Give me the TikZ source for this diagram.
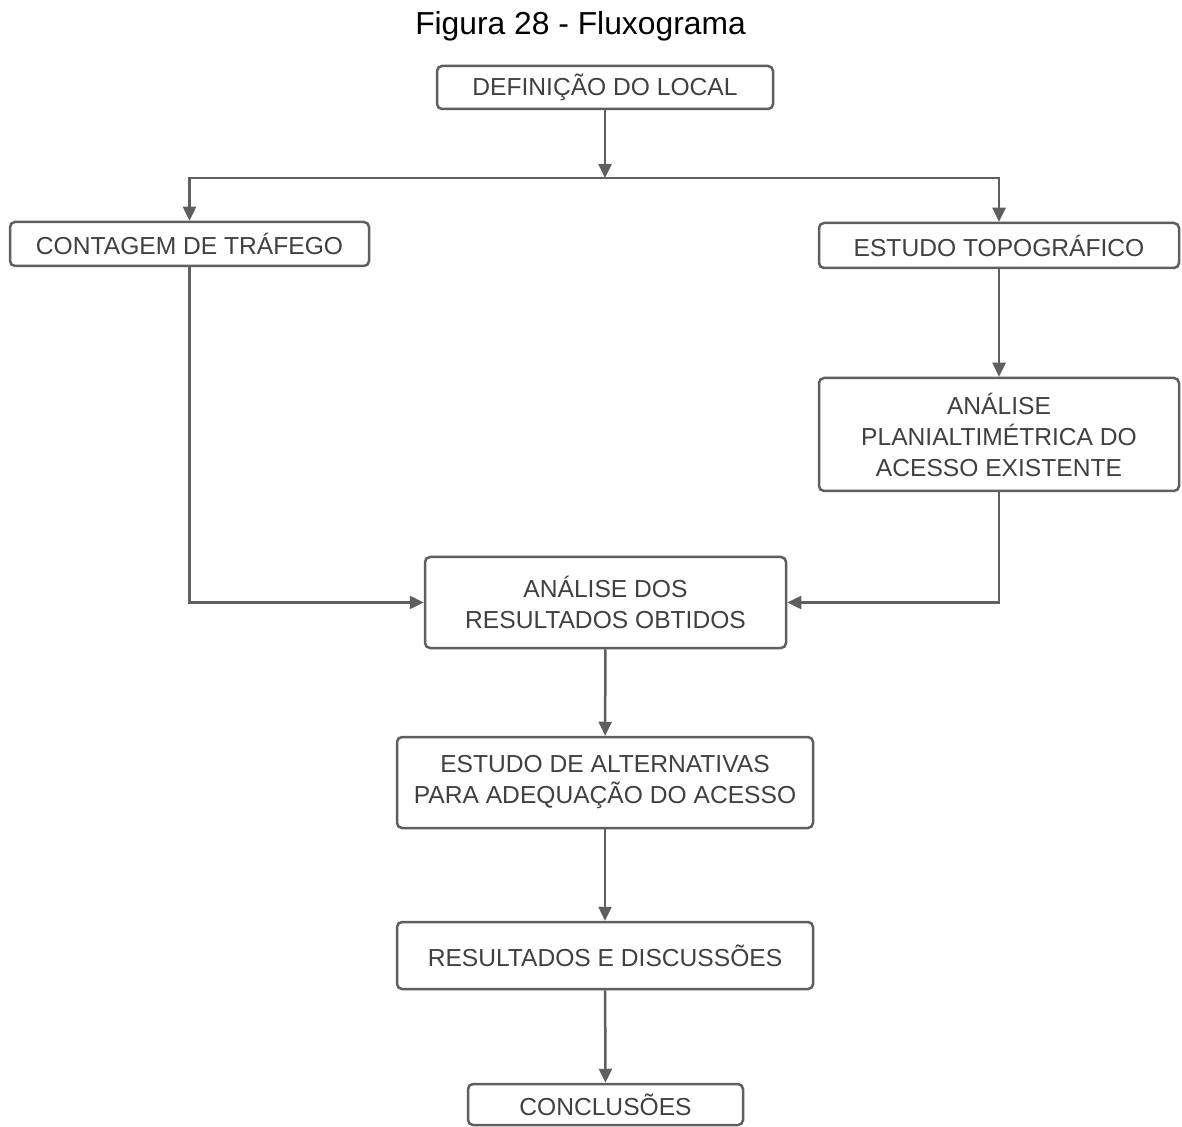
\documentclass[tikz,border=0pt]{standalone}
\usepackage{fontspec}
\setmainfont{Liberation Sans}
\usetikzlibrary{arrows.meta}
\definecolor{boxgray}{HTML}{5F5F5F}
\definecolor{txtgray}{HTML}{404040}

\begin{document}
\begin{tikzpicture}[x=0.5pt, y=-0.5pt,
    etapa/.style={draw=boxgray, line width=1.25pt, rounded corners=2.5pt, text=txtgray,
        align=center, inner sep=0pt, font=\fontsize{12.3}{15.5}\selectfont},
    seta/.style={draw=boxgray, line width=1.25pt, -{Triangle[length=7pt, width=6.5pt]}},
    linha/.style={draw=boxgray, line width=1.25pt}]
    \useasboundingbox (0, 0) rectangle (1182, 1127);
    \node[font=\fontsize{15.9}{19}\selectfont] (titulo) at (580.5, 26) {Figura 28 - Fluxograma};
    \node[etapa, minimum width=168pt, minimum height=21.5pt] (local) at (605, 87.5) {DEFINIÇÃO DO LOCAL};
    \node[etapa, minimum width=179.5pt, minimum height=22pt] (contagem) at (189.5, 244) {CONTAGEM DE TRÁFEGO};
    \node[etapa, minimum width=180pt, minimum height=22.5pt] (topo) at (999, 245.5) {ESTUDO TOPOGRÁFICO};
    \node[etapa, minimum width=180pt, minimum height=56.5pt] (plani) at (999, 434.5) {ANÁLISE\\PLANIALTIMÉTRICA DO\\ACESSO EXISTENTE};
    \node[etapa, minimum width=180.5pt, minimum height=45.5pt] (analise) at (605.5, 602.5) {ANÁLISE DOS\\RESULTADOS OBTIDOS};
    \node[etapa, minimum width=208pt, minimum height=45.5pt] (alternativas) at (605, 782.5) {ESTUDO DE ALTERNATIVAS\\PARA ADEQUAÇÃO DO ACESSO};
    \node[etapa, minimum width=208pt, minimum height=33.5pt] (resultados) at (605, 955.5) {RESULTADOS E DISCUSSÕES};
    \node[etapa, minimum width=137.5pt, minimum height=20.5pt] (conclusoes) at (605.5, 1104.5) {CONCLUSÕES};
    \coordinate (divide) at (605, 178);
    % ramificacao
    \draw[seta] (local) -- (divide);
    \draw[seta] (divide) -| (contagem);
    \draw[seta] (divide) -| (topo);
    \draw[seta] (topo) -- (plani);
    \draw[seta] (contagem) |- (analise);
    \draw[seta] (plani) |- (analise);
    % sequencia final
    \draw[seta] (analise) -- (alternativas);
    \draw[seta] (alternativas) -- (resultados);
    \draw[seta] (resultados) -- (conclusoes);
\end{tikzpicture}
\end{document}
